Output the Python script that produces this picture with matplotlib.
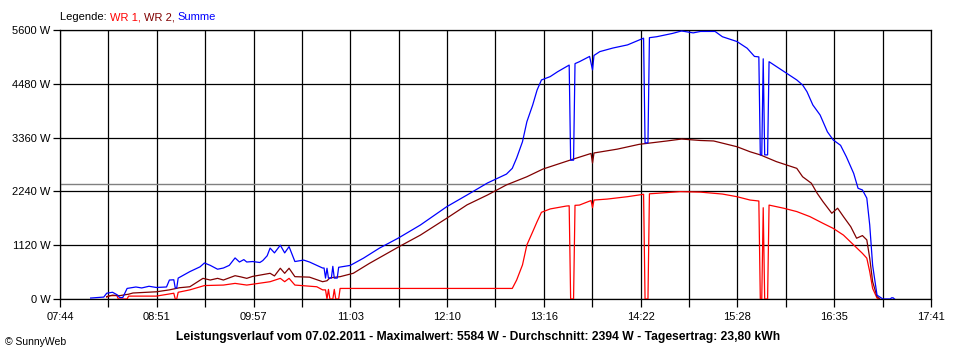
import matplotlib
matplotlib.use("Agg")
import matplotlib.pyplot as plt
import numpy as np

# ---------------- data ----------------
x_tick_labels = ["07:44", "08:51", "09:57", "11:03", "12:10", "13:16", "14:22", "15:28", "16:35", "17:41"]
y_ticks = [0, 1120, 2240, 3360, 4480, 5600]
y_tick_labels = ["0 W", "1120 W", "2240 W", "3360 W", "4480 W", "5600 W"]
average_w = 2394

summe_times = ["08:05", "08:14", "08:16", "08:20", "08:23", "08:25", "08:27", "08:30", "08:36", "08:40",
               "08:45", "08:50", "08:57", "08:59", "09:02", "09:03", "09:04", "09:05", "09:13", "09:20",
               "09:23", "09:27", "09:32", "09:36", "09:40", "09:44", "09:47", "09:50", "09:52", "09:56",
               "10:01", "10:03", "10:06", "10:08", "10:11", "10:15", "10:18", "10:21", "10:25", "10:31",
               "10:35", "10:40", "10:44", "10:45", "10:46", "10:47", "10:48", "10:50", "10:51", "10:52",
               "10:54", "10:55", "11:03", "11:12", "11:23", "11:36", "11:51", "12:09", "12:23", "12:37",
               "12:50", "12:54", "12:57", "13:01", "13:04", "13:08", "13:11", "13:14", "13:20", "13:25",
               "13:33", "13:34", "13:36", "13:37", "13:40", "13:47", "13:49", "13:50", "13:54", "14:03",
               "14:13", "14:24", "14:25", "14:27", "14:28", "14:33", "14:44", "14:50", "14:58", "15:03",
               "15:13", "15:18", "15:28", "15:35", "15:40", "15:43", "15:44", "15:45", "15:46", "15:47",
               "15:49", "15:50", "15:55", "16:02", "16:09", "16:13", "16:16", "16:20", "16:25", "16:30",
               "16:34", "16:39", "16:43", "16:48", "16:51", "16:54", "16:57", "16:59", "17:00", "17:01",
               "17:03", "17:04", "17:07", "17:08", "17:13", "17:14", "17:15", "17:16"]
summe_watts = [20, 40, 120, 140, 90, 30, 30, 220, 250, 230,
               265, 240, 250, 395, 400, 230, 230, 435, 570, 670,
               750, 700, 620, 645, 700, 855, 770, 820, 770, 780,
               760, 800, 900, 1060, 960, 1120, 960, 1090, 780, 810,
               770, 700, 645, 645, 435, 640, 435, 435, 680, 435,
               435, 660, 700, 850, 1060, 1270, 1540, 1920, 2165, 2415,
               2600, 2720, 2935, 3275, 3690, 4040, 4350, 4560, 4630, 4730,
               4870, 2890, 2890, 4900, 4940, 5050, 4770, 5070, 5150, 5225,
               5290, 5430, 3250, 3250, 5440, 5460, 5530, 5580, 5540, 5570,
               5570, 5460, 5360, 5220, 5050, 5040, 3000, 3000, 5000, 3000,
               3000, 4940, 4840, 4700, 4560, 4455, 4315, 4040, 3830, 3480,
               3310, 3200, 2960, 2615, 2305, 2270, 2100, 1540, 1120, 700,
               290, 80, 20, 0, 0, 25, 25, 0]

wr2_times = ["08:16", "08:20", "08:25", "08:31", "08:34", "08:50", "08:59", "09:06", "09:13", "09:22",
             "09:27", "09:32", "09:36", "09:44", "09:48", "09:52", "09:56", "10:08", "10:11", "10:15",
             "10:18", "10:21", "10:25", "10:35", "10:44", "10:47", "10:49", "10:56", "11:05", "11:16",
             "11:37", "11:51", "12:09", "12:23", "12:37", "12:50", "13:04", "13:15", "13:20", "13:34",
             "13:48", "13:49", "13:50", "14:06", "14:21", "14:40", "14:50", "15:03", "15:12", "15:28",
             "15:37", "15:44", "15:55", "16:02", "16:09", "16:13", "16:19", "16:23", "16:27", "16:33",
             "16:37", "16:41", "16:46", "16:50", "16:54", "16:57", "16:59", "17:01", "17:04", "17:06"]
wr2_watts = [50, 80, 70, 100, 125, 150, 190, 235, 255, 430,
             395, 430, 395, 485, 460, 430, 470, 535, 480, 640,
             535, 640, 465, 455, 360, 380, 440, 465, 535, 740,
             1100, 1330, 1680, 1960, 2165, 2375, 2545, 2705, 2755, 2895,
             3030, 2830, 3040, 3120, 3220, 3290, 3330, 3300, 3290, 3170,
             3065, 3000, 2860, 2790, 2720, 2545, 2410, 2200, 2025, 1785,
             1890, 1715, 1505, 1265, 1320, 1230, 850, 360, 50, 0]

wr1_times = ["08:16", "08:18", "08:23", "08:24", "08:30", "08:31", "08:50", "08:58", "09:02", "09:03",
             "09:04", "09:05", "09:13", "09:23", "09:36", "09:44", "09:52", "10:08", "10:15", "10:18",
             "10:21", "10:25", "10:40", "10:44", "10:46", "10:47", "10:48", "10:49", "10:51", "10:52",
             "10:53", "10:55", "10:56", "12:54", "12:57", "13:01", "13:04", "13:08", "13:11", "13:14",
             "13:20", "13:31", "13:33", "13:34", "13:36", "13:37", "13:40", "13:48", "13:49", "13:50",
             "13:59", "14:13", "14:24", "14:25", "14:27", "14:28", "14:33", "14:49", "15:03", "15:18",
             "15:28", "15:37", "15:43", "15:44", "15:45", "15:46", "15:47", "15:49", "15:50", "16:00",
             "16:09", "16:18", "16:27", "16:34", "16:41", "16:48", "16:54", "16:57", "16:59", "17:01",
             "17:04", "17:05"]
wr1_watts = [40, 70, 70, 0, 0, 60, 60, 100, 120, 0,
             0, 140, 190, 280, 290, 325, 290, 360, 430, 360,
             430, 290, 255, 190, 190, 0, 200, 0, 0, 200,
             0, 0, 220, 220, 395, 710, 1125, 1400, 1610, 1805,
             1875, 1935, 1940, 0, 0, 1950, 1955, 2050, 1900, 2060,
             2080, 2130, 2180, 0, 0, 2190, 2200, 2235, 2225, 2185,
             2130, 2060, 2040, 0, 0, 1900, 0, 0, 1955, 1890,
             1820, 1715, 1575, 1470, 1330, 1125, 950, 850, 570, 220,
             20, 0]


def to_min(s):
    h, m = s.split(":")
    return int(h) * 60 + int(m)


RED = "#FF0000"
BROWN = "#800000"
BLUE = "#0000FF"
plt.rcParams["font.family"] = ["Liberation Sans", "DejaVu Sans"]

fig = plt.figure(figsize=(9.6, 3.6), dpi=100)
fig.patch.set_facecolor("white")
ax = fig.add_axes([60 / 960, 1 - 299 / 360, 871 / 960, 269 / 360])

x0, x1 = to_min(x_tick_labels[0]), to_min(x_tick_labels[-1])
ax.set_xlim(x0, x1)
ax.set_ylim(y_ticks[0], y_ticks[-1])

grid_x = np.linspace(x0, x1, 2 * (len(x_tick_labels) - 1) + 1)
ax.set_xticks(grid_x)
labels = [x_tick_labels[i // 2] if i % 2 == 0 else "" for i in range(len(grid_x))]
ax.set_xticklabels(labels, fontsize=8)
ax.set_yticks(y_ticks)
ax.set_yticklabels(y_tick_labels, fontsize=8)

ax.grid(True, color="black", linewidth=0.9)
ax.set_axisbelow(True)
for sp in ax.spines.values():
    sp.set_color("black")
    sp.set_linewidth(0.9)
ax.tick_params(axis="y", length=5, width=0.9, pad=2, colors="black")
ax.tick_params(axis="x", length=6, width=0.9, pad=3.5, colors="black")

ax.axhline(average_w, color="#808080", linewidth=1.0, zorder=2)

ax.plot([to_min(t) for t in wr1_times], wr1_watts, color=RED, lw=0.9, zorder=3)
ax.plot([to_min(t) for t in wr2_times], wr2_watts, color=BROWN, lw=0.9, zorder=4)
ax.plot([to_min(t) for t in summe_times], summe_watts, color=BLUE, lw=0.9, zorder=5)

# legend line at top (multi-coloured text)
pieces = [("Legende: ", "black"), ("WR 1, ", RED), ("WR 2, ", BROWN), ("Summe", BLUE)]
prev = fig.text(60 / 960, 1 - 17 / 360, pieces[0][0], color=pieces[0][1], fontsize=8,
                ha="left", va="center")
for txt, col in pieces[1:]:
    prev = ax.annotate(txt, xy=(1, 0), xycoords=prev, xytext=(0, 0), textcoords="offset points",
                       color=col, fontsize=8, ha="left", va="bottom", annotation_clip=False)

fig.text(478 / 960, 1 - 337 / 360,
         "Leistungsverlauf vom 07.02.2011 - Maximalwert: 5584 W - Durchschnitt: 2394 W - Tagesertrag: 23,80 kWh",
         ha="center", va="center", fontsize=8.7, fontweight="bold")
fig.text(5 / 960, 1 - 342 / 360, "© SunnyWeb", ha="left", va="center", fontsize=7.5)

fig.savefig("out.png", dpi=100)
